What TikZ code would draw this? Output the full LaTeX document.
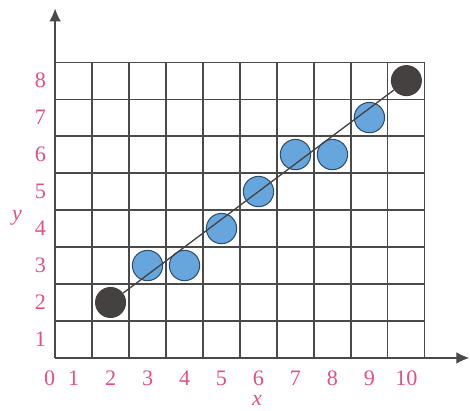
\documentclass[tikz,border=0pt]{standalone}
\usepackage{fontspec}
\setmainfont{Liberation Serif}
\usetikzlibrary{arrows.meta}
\definecolor{labelpink}{HTML}{E2508A}
\definecolor{pixblue}{HTML}{66A6DC}
\definecolor{pixedge}{HTML}{2E4C6C}
\definecolor{pixdark}{HTML}{454140}
\definecolor{gridgray}{HTML}{4A4A4A}
\tikzset{
  pixel/.style={circle, draw=pixedge, line width=0.8pt, fill=pixblue, minimum size=0.82cm, inner sep=0pt},
  endpix/.style={circle, fill=pixdark, minimum size=0.84cm, inner sep=0pt},
  lbl/.style={text=labelpink, inner sep=1pt}
}
\begin{document}
\begin{tikzpicture}[font=\fontsize{17}{20}\selectfont, line join=round, >={Latex[length=10pt,width=9pt]}]
\def \xmax{10}
\def \ymax{8}
\useasboundingbox (-1.49,-1.41) rectangle (11.22,9.68);
% grid
\draw[gridgray, line width=0.9pt] (0,0) grid (\xmax,\ymax);
% axes
\draw[->, gridgray, line width=1pt] (0,0)--(11.2,0);
\draw[->, gridgray, line width=1pt] (0,0)--(0,9.45);
% axis labels
\node[lbl] (zero) at (-0.15,-0.55) {0};
\foreach \i in {1,...,10}
  \node[lbl] (xl\i) at (\i-0.5,-0.55) {\i};
\foreach \j in {1,...,8}
  \node[lbl] (yl\j) at (-0.4,\j-0.5) {\j};
\node[lbl] (ylab) at (-1.03,3.8) {\textit{y}};
\node[lbl] (xlab) at (5.46,-1.16) {\textit{x}};
% plotted pixels
\foreach \px/\py in {3/3,4/3,5/4,6/5,7/6,8/6,9/7}
  \node[pixel] (p\px) at (\px-0.5,\py-0.5) {};
\node[endpix] (start) at (1.5,1.5) {};
\node[endpix] (end) at (9.5,7.5) {};
\draw[pixdark, line width=1pt] (start)--(end);
\end{tikzpicture}
\end{document}
